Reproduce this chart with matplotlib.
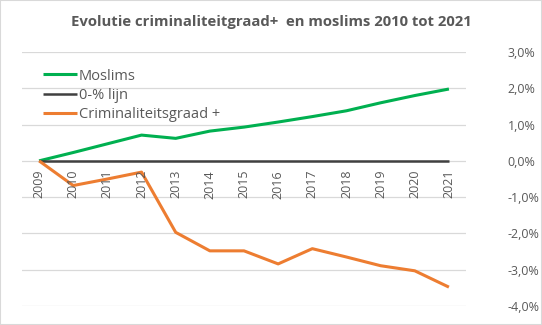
import numpy as np
import matplotlib.pyplot as plt

jaren = ["2009", "2010", "2011", "2012", "2013", "2014", "2015",
         "2016", "2017", "2018", "2019", "2020", "2021"]
moslims = [0.0, 0.23, 0.47, 0.71, 0.62, 0.82, 0.93, 1.07, 1.22, 1.38, 1.6, 1.8, 1.98]
nul_lijn = [0.0] * 13
criminaliteit = [0.0, -0.68, -0.5, -0.31, -1.97, -2.48, -2.48, -2.84, -2.42,
                 -2.65, -2.89, -3.03, -3.48]

plt.rcParams['font.family'] = ['Open Sans', 'DejaVu Sans']
grijs = '#595959'

fig = plt.figure(figsize=(5.42, 3.25), dpi=100)
ax = fig.add_axes([22/542, 19/325, 444/542, 254/325])

x = np.arange(len(jaren))
ax.plot(x, moslims, color='#00B050', lw=2.2, label='Moslims', solid_capstyle='butt')
ax.plot(x, nul_lijn, color='#404040', lw=1.8, label='0-% lijn', solid_capstyle='butt')
ax.plot(x, criminaliteit, color='#ED7D31', lw=2.2, label='Criminaliteitsgraad +', solid_capstyle='butt')

ax.set_xlim(-0.5, len(jaren) - 0.5)
ax.set_ylim(-4, 3)
ax.set_yticks(np.arange(-4, 4, 1))
ax.set_yticklabels([f"{v:.1f}%".replace('.', ',') for v in np.arange(-4, 4, 1)])
ax.yaxis.tick_right()
ax.tick_params(axis='y', length=0, pad=30, labelsize=9, labelcolor=grijs)
ax.set_xticks([])
ax.grid(axis='y', color='#D9D9D9', lw=0.9)
ax.set_axisbelow(True)
for s in ax.spines.values():
    s.set_visible(False)

for i, j in enumerate(jaren):
    ax.text(i, -0.25, j, rotation=90, ha='center', va='top', fontsize=9, color=grijs)

ax.legend(loc='upper left', bbox_to_anchor=(0.025, 0.975), frameon=False, fontsize=10.5,
          labelcolor=grijs, handlelength=2.3, handletextpad=0.15, labelspacing=0.3,
          borderaxespad=0.3)

fig.text(0.5, 0.932, "Evolutie criminaliteitgraad+  en moslims 2010 tot 2021",
         ha='center', va='center', fontsize=10.7, fontweight='bold', color=grijs)

fig.patches.append(plt.Rectangle((0, 0), 1, 1, transform=fig.transFigure, fill=False,
                                 edgecolor='#D9D9D9', lw=1.5))

fig.savefig('out.png', dpi=100)
